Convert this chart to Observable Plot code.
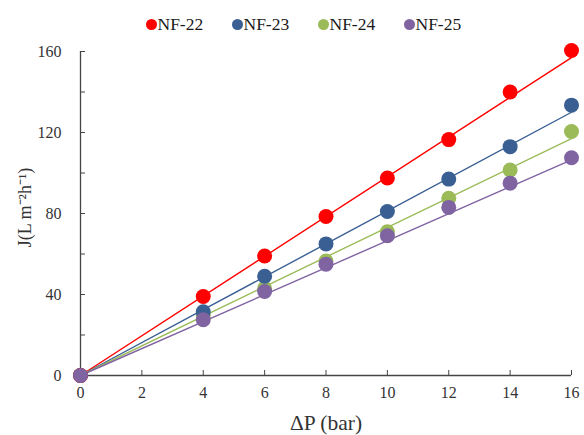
<!DOCTYPE html>
<html>
<head>
<meta charset="utf-8">
<script src="https://cdn.jsdelivr.net/npm/d3@7"></script>
<script src="https://cdn.jsdelivr.net/npm/@observablehq/plot@0.6"></script>
<style>
  body { margin: 0; background: #fff; font-family: 'Liberation Serif', serif; }
  #wrap { position: relative; width: 584px; height: 435px; }
  #legend { position: relative; height: 40px; }
  .item { position: absolute; top: 14px; height: 20px; line-height: 20px; display: flex; align-items: center; font-size: 17.5px; color: #1a1a1a; font-family: 'Liberation Serif', serif; }
  .dot { width: 11px; height: 11px; border-radius: 50%; margin-right: 1px; }
  svg text { font-family: 'Liberation Serif', serif; }
</style>
</head>
<body>
<div id="wrap">
  <div id="legend"></div>
  <div id="chart"></div>
</div>
<script>
// ---- data ----
const series = ["NF-22", "NF-23", "NF-24", "NF-25"];
const colors = ["#ff0000", "#3a5f93", "#9bbb59", "#8064a2"];
const pressure = [0, 4, 6, 8, 10, 12, 14, 16];
const nf22 = [0, 39, 59, 78.5, 97.5, 116.5, 140, 160.5];
const nf23 = [0, 31.5, 49, 65, 81, 97, 113, 133.5];
const nf24 = [0, 29.5, 43, 56.5, 71, 87.5, 101.5, 120.5];
const nf25 = [0, 27.5, 41.5, 55, 69, 83, 95, 107.5];
// trend line values at 0 and 16 bar
const fitX = [0, 16];
const fitStart = [0, 0, 0, 0];
const fitEnd = [157, 130, 117, 106.5];
const xTicks = [0, 2, 4, 6, 8, 10, 12, 14, 16];
const yTicks = [0, 40, 80, 120, 160];
const yMinorTicks = [0, 20, 40, 60, 80, 100, 120, 140, 160];
const legendX = [145.5, 231.5, 317.5, 403.5];

// ---- build tables ----
const values = [nf22, nf23, nf24, nf25];
const points = [];
series.forEach((s, i) => pressure.forEach((p, j) => points.push({series: s, x: p, y: values[i][j]})));
const fits = [];
series.forEach((s, i) => {
  fits.push({series: s, x: fitX[0], y: fitStart[i]});
  fits.push({series: s, x: fitX[1], y: fitEnd[i]});
});
const drawOrder = ["NF-24", "NF-23", "NF-22", "NF-25"];
const orderedPoints = drawOrder.flatMap(s => points.filter(d => d.series === s));

// ---- legend ----
const legend = document.getElementById("legend");
series.forEach((s, i) => {
  const el = document.createElement("div");
  el.className = "item";
  el.style.left = legendX[i] + "px";
  el.innerHTML = `<span class="dot" style="background:${colors[i]}"></span><span>${s}</span>`;
  legend.appendChild(el);
});

// ---- chart ----
const axisColor = "#444";
const chart = Plot.plot({
  width: 584,
  height: 395,
  marginLeft: 80,
  marginRight: 13,
  marginTop: 11,
  marginBottom: 60,
  style: {fontFamily: "'Liberation Serif', serif", fontSize: "16px", color: "#333", background: "#fff", overflow: "visible"},
  x: {domain: [0, 16]},
  y: {domain: [0, 160]},
  color: {domain: series, range: colors},
  marks: [
    Plot.axisX({ticks: xTicks, tickSize: -5, tickPadding: 16, stroke: axisColor, label: null, fontSize: 16}),
    Plot.axisY({ticks: yMinorTicks, tickSize: -5, tickFormat: () => "", stroke: axisColor, label: null}),
    Plot.axisY({ticks: yTicks, tickSize: 0, tickPadding: 19, label: null, fontSize: 16}),
    Plot.text(["ΔP (bar)"], {frameAnchor: "bottom", textAnchor: "middle", dy: 54, fontSize: 21.5, fill: "#333"}),
    Plot.text(["J(L m⁻²h⁻¹)"], {frameAnchor: "left", textAnchor: "middle", dx: -55, dy: -6, rotate: -90, fontSize: 18, fill: "#333"}),
    Plot.ruleX([0], {stroke: axisColor, strokeWidth: 1.3}),
    Plot.ruleY([0], {stroke: axisColor, strokeWidth: 1.3}),
    Plot.line(fits, {x: "x", y: "y", z: "series", stroke: "series", strokeWidth: 1.4}),
    Plot.dot(orderedPoints, {x: "x", y: "y", fill: "series", r: 7.5, stroke: null})
  ]
});
document.getElementById("chart").appendChild(chart);
</script>
</body>
</html>
